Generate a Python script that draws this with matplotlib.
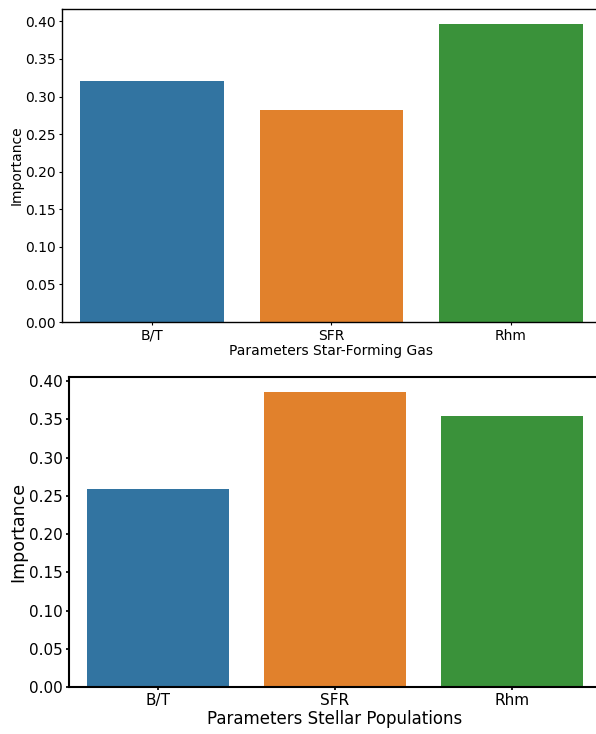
import matplotlib
matplotlib.use("Agg")
import matplotlib.pyplot as plt
import seaborn as sns
import pandas as pd

# feature importances from the two random-forest fits
params = ["B/T", "SFR", "Rhm"]
imp_gas = [0.321, 0.282, 0.397]
imp_stars = [0.259, 0.386, 0.354]

fig = plt.figure(figsize=(5.96, 7.34), dpi=100)

# top panel: matplotlib default sizes
ax1 = fig.add_axes([0.104, 0.5613, 0.904, 0.4264])
df_gas = pd.DataFrame({"param": params, "imp": imp_gas})
sns.barplot(data=df_gas, x="param", y="imp", hue="param", legend=False, ax=ax1)
ax1.set_xlabel("Parameters Star-Forming Gas", fontsize=10, labelpad=1)
ax1.set_ylabel("Importance", fontsize=10, labelpad=1)
ax1.tick_params(labelsize=10, length=2.2, pad=2.5)
ax1.set_yticks([0.0, 0.05, 0.10, 0.15, 0.20, 0.25, 0.30, 0.35, 0.40])
ax1.set_ylim(0, 0.4165)
ax1.set_xlim(-0.5, 2.5)
for s in ax1.spines.values():
    s.set_linewidth(1.0)

# bottom panel: notebook-style sizes
ax2 = fig.add_axes([0.1166, 0.064, 0.891, 0.4223])
df_stars = pd.DataFrame({"param": params, "imp": imp_stars})
sns.barplot(data=df_stars, x="param", y="imp", hue="param", legend=False, ax=ax2)
ax2.set_xlabel("Parameters Stellar Populations", fontsize=12, labelpad=1)
ax2.set_ylabel("Importance", fontsize=12.5, labelpad=1.5)
ax2.tick_params(labelsize=11, width=1.25, length=2, pad=2.5)
ax2.set_yticks([0.0, 0.05, 0.10, 0.15, 0.20, 0.25, 0.30, 0.35, 0.40])
ax2.set_ylim(0, 0.4055)
ax2.set_xlim(-0.5, 2.5)
for s in ax2.spines.values():
    s.set_linewidth(1.5)

fig.savefig("out.png", dpi=100)
